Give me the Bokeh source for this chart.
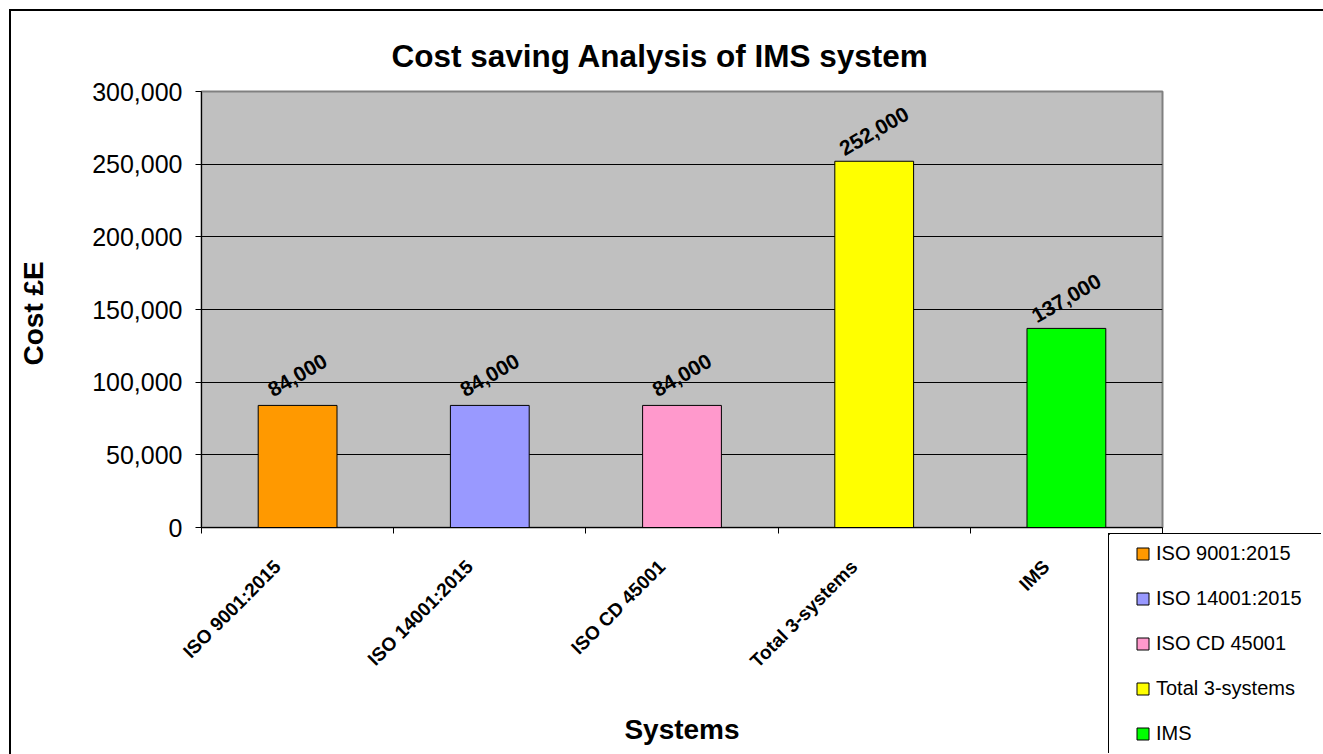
import math
from bokeh.plotting import figure
from bokeh.models import (ColumnDataSource, FixedTicker, NumeralTickFormatter, Range1d,
                          Legend, LegendItem, Title, Div)
from bokeh.core.properties import value
from bokeh.embed import file_html
from bokeh.resources import INLINE

categories = ["ISO 9001:2015", "ISO 14001:2015", "ISO CD 45001", "Total 3-systems", "IMS"]
costs = [84000, 84000, 84000, 252000, 137000]
bar_colors = ["#FF9900", "#9999FF", "#FF99CC", "#FFFF00", "#00FF00"]
y_ticks = [0, 50000, 100000, 150000, 200000, 250000, 300000]
cost_labels = [f"{c:,}" for c in costs]

FONT = "Liberation Sans"
n = len(categories)
xs = [i + 0.5 for i in range(n)]
src = ColumnDataSource(dict(x=xs, top=costs, color=bar_colors, label=cost_labels, name=categories))

p = figure(width=1323, height=754, output_backend="svg", toolbar_location=None,
           x_range=Range1d(0, n), y_range=Range1d(0, 300000),
           min_border_left=201, min_border_right=161, min_border_top=91, min_border_bottom=227)
p.title = Title(text="Cost  saving Analysis of IMS system", align="left", offset=190,
                text_font=FONT, text_font_size="31.5px", text_font_style="bold",
                text_color="black", standoff=36)

p.background_fill_color = "#C0C0C0"
p.border_fill_color = "white"
p.outline_line_color = "#808080"
p.outline_line_width = 2

r = p.vbar(x="x", top="top", width=0.41, source=src, fill_color="color",
           line_color="black", line_width=1)

p.text(x="x", y="top", text="label", source=src, angle=30, angle_units="deg",
       text_align="center", text_baseline="middle", y_offset=-30,
       text_font=value(FONT), text_font_style="bold", text_font_size="21px", text_color="black")

# grid
p.xgrid.grid_line_color = None
p.ygrid.grid_line_color = "black"
p.ygrid.grid_line_width = 1
p.ygrid.ticker = FixedTicker(ticks=y_ticks)

# y axis
ya = p.yaxis[0]
ya.ticker = FixedTicker(ticks=y_ticks)
ya.formatter = NumeralTickFormatter(format="0,0")
ya.major_tick_in = 0
ya.major_tick_out = 6
ya.minor_tick_line_color = None
ya.axis_line_color = "black"
ya.major_tick_line_color = "black"
ya.major_label_text_font = FONT
ya.major_label_text_font_size = "25px"
ya.major_label_text_color = "black"
ya.major_label_standoff = 13
ya.axis_label = "Cost  £E"
ya.axis_label_text_font = FONT
ya.axis_label_text_font_size = "28px"
ya.axis_label_text_font_style = "bold"
ya.axis_label_text_color = "black"
ya.axis_label_standoff = 40

# x axis: category labels slightly left of the category centres, ticks on boundaries
label_shift = 0.105
label_pos = [x - label_shift for x in xs]
xa = p.xaxis[0]
xa.ticker = FixedTicker(ticks=label_pos, minor_ticks=list(range(n + 1)))
xa.major_label_overrides = {x: c for x, c in zip(label_pos, categories)}
xa.major_tick_line_color = None
xa.minor_tick_in = 0
xa.minor_tick_out = 6
xa.minor_tick_line_color = "black"
xa.axis_line_color = "black"
xa.major_label_orientation = math.pi / 4
xa.major_label_text_font = FONT
xa.major_label_text_font_size = "19px"
xa.major_label_text_font_style = "bold"
xa.major_label_text_color = "black"
xa.major_label_standoff = 30
xa.axis_label = "Systems"
xa.axis_label_text_font = FONT
xa.axis_label_text_font_size = "28px"
xa.axis_label_text_font_style = "bold"
xa.axis_label_text_color = "black"
xa.axis_label_standoff = 32

# outer chart border
border = Div(text="", width=1314, height=745, margin=0,
             styles={"position": "absolute", "left": "9px", "top": "9px",
                     "border-left": "2px solid black", "border-top": "2px solid black",
                     "pointer-events": "none"})

# legend panel (sits over the lower right corner of the chart)
lg = figure(width=213, height=220, output_backend="svg", toolbar_location=None,
            x_range=Range1d(100, 105), y_range=Range1d(-1.2e6, -1.0e6),
            x_axis_location=None, y_axis_location=None, min_border=0, margin=0,
            styles={"position": "absolute", "left": "1108px", "top": "533px",
                    "border-left": "1.5px solid black", "border-top": "1.5px solid black"})
lg.background_fill_color = "white"
lg.border_fill_color = "white"
lg.outline_line_color = None
lg.grid.visible = False
lr = lg.vbar(x="x", top="top", width=0.41, source=src, fill_color="color",
             line_color="black", line_width=1)
items = [LegendItem(label=value(c), renderers=[lr], index=i) for i, c in enumerate(categories)]
legend = Legend(items=items, location=(26, 9), padding=0, spacing=22, margin=0,
                glyph_width=15, glyph_height=15, label_standoff=6, label_height=22,
                label_text_font=FONT, label_text_font_size="20px", label_text_color="black",
                label_text_baseline="middle",
                border_line_color=None, background_fill_alpha=0)
lg.add_layout(legend, "center")

open("out.html", "w").write(file_html([p, border, lg], INLINE))
